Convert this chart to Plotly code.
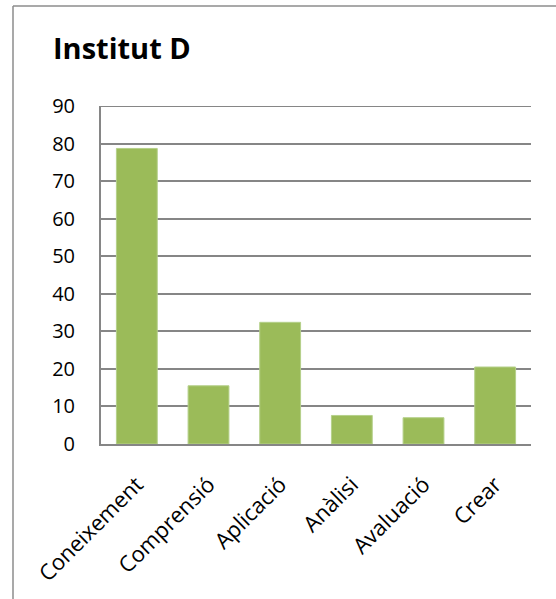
import plotly.graph_objects as go

categories = ["Coneixement", "Comprensió", "Aplicació", "Anàlisi", "Avaluació", "Crear"]
values = [78.7, 15.5, 32.4, 7.6, 7.0, 20.5]
y_ticks = [0, 10, 20, 30, 40, 50, 60, 70, 80, 90]

W, H = 556, 599
L, R, T, B = 101, 25, 106, 155
pw, ph = W - L - R, H - T - B

def px(x):
    return (x - L) / pw

def py(y):
    return (H - B - y) / ph

fig = go.Figure(go.Bar(x=categories, y=values, marker=dict(color="#9BBB59", line=dict(color="#B5D08A", width=1))))

fig.update_layout(
    width=W, height=H,
    margin=dict(l=L, r=R, t=T, b=B),
    paper_bgcolor="white", plot_bgcolor="white",
    bargap=0.43,
    showlegend=False,
    font=dict(family="Open Sans", size=20, color="black"),
    title=dict(text="<b>Institut D</b>", x=53 / W, xanchor="left", y=1 - 49 / H, yanchor="middle",
               font=dict(family="Open Sans", size=29, color="black")),
    xaxis=dict(showline=True, linecolor="#868686", linewidth=2, tickangle=-45, ticks="",
               tickfont=dict(size=22), showgrid=False, ticklabelstandoff=17),
    yaxis=dict(range=[0, 90], tickvals=y_ticks, showgrid=True, gridcolor="#868686", gridwidth=1.5,
               showline=True, linecolor="#868686", linewidth=2, ticks="", ticklen=0,
               tickfont=dict(size=20), zeroline=False, ticklabelstandoff=20),
    shapes=[
        dict(type="line", xref="paper", yref="y", x0=0, x1=1, y0=90, y1=90,
             line=dict(color="#868686", width=2), layer="below"),
        dict(type="line", xref="paper", yref="paper", x0=px(13), x1=px(556), y0=py(6), y1=py(6),
             line=dict(color="#8C8C8C", width=1.5)),
        dict(type="line", xref="paper", yref="paper", x0=px(13), x1=px(13), y0=py(6), y1=py(600),
             line=dict(color="#8C8C8C", width=1.5)),
    ],
)

fig.write_html("out.html", config={"displayModeBar": False},
               post_script="document.body.style.margin='0';document.body.style.overflow='hidden';")
